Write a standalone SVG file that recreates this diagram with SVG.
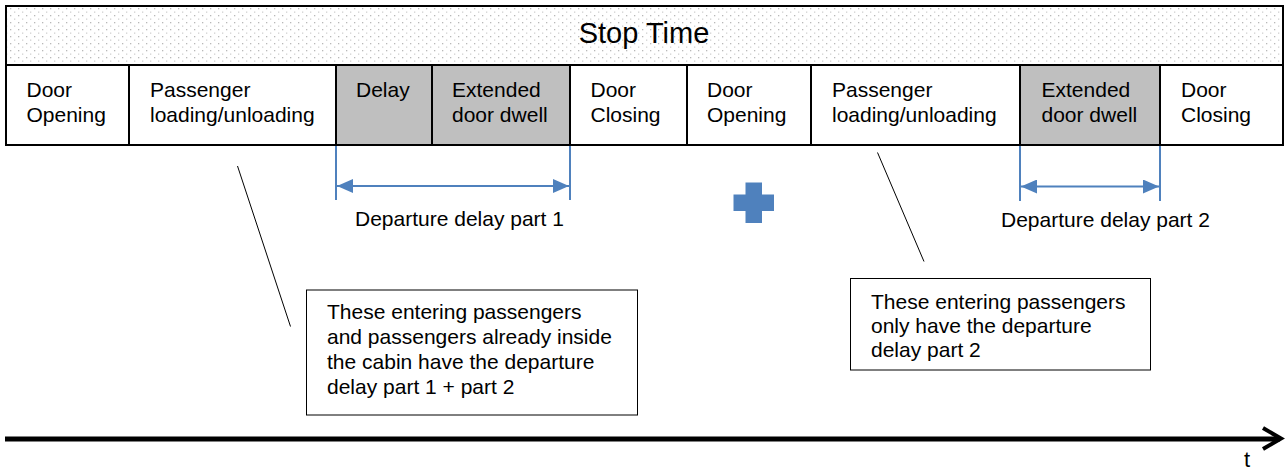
<svg xmlns="http://www.w3.org/2000/svg" width="1287" height="472" viewBox="0 0 1287 472">
<style>
text{font-family:"Liberation Sans",Arial,sans-serif;fill:#000}
.cell{stroke:#000;stroke-width:2}
.w{fill:#fff}
.g{fill:#bfbfbf}
.t{font-size:21px}
.blue{stroke:#4f81bd;stroke-width:2;fill:none}
.thin{stroke:#000;stroke-width:1;fill:none}
</style>
<defs>
<pattern id="dots" patternUnits="userSpaceOnUse" width="8" height="7">
<rect x="2" y="1" width="1.3" height="1.3" fill="#b8b8b8"/>
<rect x="6" y="4.5" width="1.3" height="1.3" fill="#d0d0d0"/>
</pattern>
<marker id="ah" viewBox="0 0 16 14" refX="16" refY="7" markerWidth="16" markerHeight="14" markerUnits="userSpaceOnUse" orient="auto-start-reverse">
<path d="M0,0 L16,7 L0,14 Z" fill="#4f81bd"/>
</marker>
</defs>
<g id="stop-time">
<rect x="6" y="6" width="1277" height="59" fill="#fff" class="cell"/>
<rect x="7" y="7" width="1275" height="57" fill="url(#dots)"/>
<text x="644" y="43" font-size="29" text-anchor="middle">Stop Time</text>
</g>
<g id="cell1"><rect x="6" y="65" width="123" height="80" class="cell w"/><text class="t" x="26.5" y="96.5">Door</text><text class="t" x="26.5" y="121.5">Opening</text></g>
<g id="cell2"><rect x="129" y="65" width="207" height="80" class="cell w"/><text class="t" x="150" y="96.5">Passenger</text><text class="t" x="150" y="121.5">loading/unloading</text></g>
<g id="cell3"><rect x="336" y="65" width="96" height="80" class="cell g"/><text class="t" x="356" y="96.5">Delay</text></g>
<g id="cell4"><rect x="432" y="65" width="138" height="80" class="cell g"/><text class="t" x="452" y="96.5">Extended</text><text class="t" x="452" y="121.5">door dwell</text></g>
<g id="cell5"><rect x="570" y="65" width="117" height="80" class="cell w"/><text class="t" x="590.5" y="96.5">Door</text><text class="t" x="590.5" y="121.5">Closing</text></g>
<g id="cell6"><rect x="687" y="65" width="124" height="80" class="cell w"/><text class="t" x="707" y="96.5">Door</text><text class="t" x="707" y="121.5">Opening</text></g>
<g id="cell7"><rect x="811" y="65" width="209" height="80" class="cell w"/><text class="t" x="832" y="96.5">Passenger</text><text class="t" x="832" y="121.5">loading/unloading</text></g>
<g id="cell8"><rect x="1020" y="65" width="140" height="80" class="cell g"/><text class="t" x="1041.5" y="96.5">Extended</text><text class="t" x="1041.5" y="121.5">door dwell</text></g>
<g id="cell9"><rect x="1160" y="65" width="123" height="80" class="cell w"/><text class="t" x="1181" y="96.5">Door</text><text class="t" x="1181" y="121.5">Closing</text></g>
<g id="connectors">
<line class="blue" x1="336" y1="146" x2="336" y2="200"/>
<line class="blue" x1="570" y1="146" x2="570" y2="200"/>
<line class="blue" x1="337" y1="186" x2="569" y2="186" marker-start="url(#ah)" marker-end="url(#ah)"/>
<line class="blue" x1="1020" y1="146" x2="1020" y2="201"/>
<line class="blue" x1="1160" y1="146" x2="1160" y2="201"/>
<line class="blue" x1="1021" y1="186.5" x2="1159" y2="186.5" marker-start="url(#ah)" marker-end="url(#ah)"/>
<line class="thin" x1="237.5" y1="166" x2="290.5" y2="326.5"/>
<line class="thin" x1="877.5" y1="152.5" x2="924" y2="261.5"/>
</g>
<g id="label-part1"><text class="t" x="355" y="226">Departure delay part 1</text></g>
<g id="label-part2"><text class="t" x="1001" y="227">Departure delay part 2</text></g>
<g id="plus"><path d="M745.5,182.5 H762 V194.5 H774 V211 H762 V223 H745.5 V211 H733.5 V194.5 H745.5 Z" fill="#4f81bd"/></g>
<g id="note1">
<rect x="306.5" y="290" width="331" height="125" fill="#fff" stroke="#000" stroke-width="1"/>
<text class="t" x="327" y="319">These entering passengers</text>
<text class="t" x="327" y="344">and passengers already inside</text>
<text class="t" x="327" y="369">the cabin have the departure</text>
<text class="t" x="327" y="394">delay part 1 + part 2</text>
</g>
<g id="note2">
<rect x="850.5" y="278.5" width="300" height="91.5" fill="#fff" stroke="#000" stroke-width="1"/>
<text class="t" x="871" y="308.5">These entering passengers</text>
<text class="t" x="871" y="332.5">only have the departure</text>
<text class="t" x="871" y="356.5">delay part 2</text>
</g>
<g id="timeline">
<line x1="5" y1="439" x2="1280" y2="439" stroke="#000" stroke-width="5"/>
<polyline points="1263,428 1281,438.5 1263,449" fill="none" stroke="#000" stroke-width="4"/>
<text x="1244" y="467" font-size="22">t</text>
</g>
</svg>
